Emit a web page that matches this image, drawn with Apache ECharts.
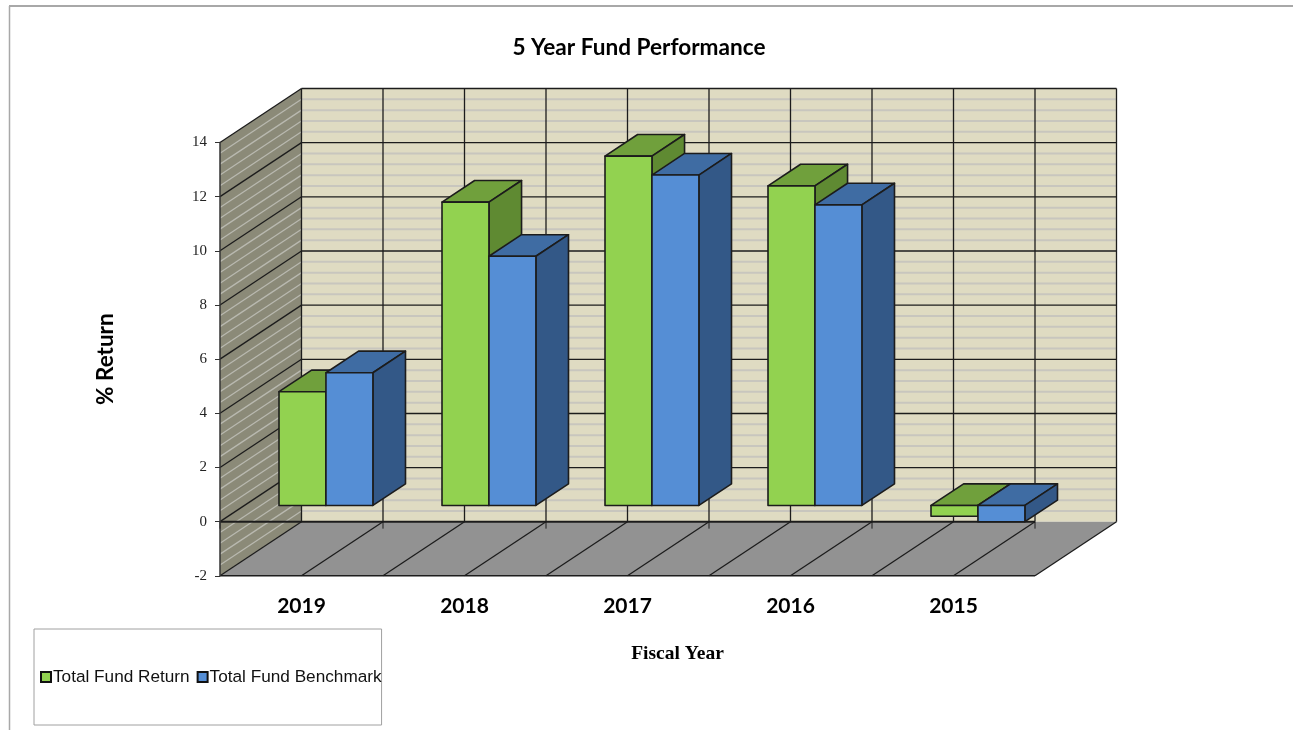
<!DOCTYPE html>
<html>

<head>
    <meta charset="utf-8">
    <script type="text/javascript" src="https://cdn.jsdelivr.net/npm/echarts@6/dist/echarts.min.js"></script>
    <title>5 Year Fund Performance</title>
    <style>
        html, body { margin: 0; padding: 0; background: #fff; }
    </style>
</head>

<body>
    <div id="container" style="width:1293px;height:730px;"></div>
    <script type="text/javascript">
    var categories = ['2019', '2018', '2017', '2016', '2015'];
    var fundReturn = [4.2, 11.2, 12.9, 11.8, -0.4];
    var fundBenchmark = [4.9, 9.2, 12.2, 11.1, -0.6];
    var majorTicks = [-2, 0, 2, 4, 6, 8, 10, 12, 14];

    // the depth of the fake 3D box, in pixels
    var depthX = 81.5;
    var depthY = -54;
    var barStart = 0.3;
    var barEnd = 0.7;
    var barWidth = 0.288;
    var minorPerMajor = 5;

    var lineColor = '#1c1c1c';
    var greenFaces = { front: '#92d250', top: '#70a03c', side: '#5f8a32' };
    var blueFaces = { front: '#558ed5', top: '#3f6ca3', side: '#335887' };

    // f = position along x in categories from the left edge, v = value, d = depth 0..1
    function point(api, f, v, d) {
        var base = api.coord([0, v]);
        var band = api.size([1, 0])[0];
        return [base[0] + (f - 0.5) * band + d * depthX, base[1] + d * depthY];
    }

    function line(a, b, color, width) {
        return {
            type: 'line',
            shape: { x1: a[0], y1: a[1], x2: b[0], y2: b[1] },
            style: { stroke: color, lineWidth: width }
        };
    }

    function face(points, fill, stroke, width) {
        return {
            type: 'polygon',
            shape: { points: points },
            style: { fill: fill, stroke: stroke || fill, lineWidth: width || 0, lineJoin: 'round' }
        };
    }

    // back wall, left wall, floor and their grid lines
    function renderBox(params, api) {
        var n = categories.length;
        var low = majorTicks[0];
        var high = majorTicks[majorTicks.length - 1];
        var kids = [];

        kids.push(face([point(api, 0, low, 1), point(api, n, low, 1), point(api, n, high, 1), point(api, 0, high, 1)], '#dfdbc2'));
        kids.push(face([point(api, 0, low, 0), point(api, 0, low, 1), point(api, 0, high, 1), point(api, 0, high, 0)], '#8b8a78'));

        // light stripes between the major lines
        for (var i = 0; i < majorTicks.length - 1; i++) {
            for (var k = 1; k < minorPerMajor; k++) {
                var v = majorTicks[i] + (majorTicks[i + 1] - majorTicks[i]) * k / minorPerMajor;
                kids.push(line(point(api, 0, v, 0), point(api, 0, v, 1), '#b9b9b0', 1.3));
                kids.push(line(point(api, 0, v, 1), point(api, n, v, 1), '#c8c6be', 2));
            }
        }

        // vertical lines on the back wall, every half category
        for (var h = 0; h <= n * 2; h++) {
            kids.push(line(point(api, h / 2, low, 1), point(api, h / 2, high, 1), lineColor, 1.3));
        }

        // major lines
        majorTicks.forEach(function (t) {
            if (t === low) return;
            kids.push(line(point(api, 0, t, 0), point(api, 0, t, 1), lineColor, 1.3));
            kids.push(line(point(api, 0, t, 1), point(api, n, t, 1), lineColor, 1.3));
        });

        // floor
        kids.push(face([point(api, 0, low, 0), point(api, n, low, 0), point(api, n, low, 1), point(api, 0, low, 1)], '#929292'));
        for (var s = 0; s <= n * 2; s++) {
            kids.push(line(point(api, s / 2, low, 0), point(api, s / 2, low, 1), lineColor, 1.3));
        }
        kids.push(line(point(api, 0, low, 0), point(api, n, low, 0), lineColor, 1.5));

        // zero line with its ticks
        kids.push(line(point(api, 0, 0, 0), point(api, n, 0, 0), lineColor, 2));
        for (var c = 0; c <= n; c++) {
            var z = point(api, c, 0, 0);
            kids.push(line(z, [z[0], z[1] + 7], lineColor, 1));
        }
        return { type: 'group', children: kids };
    }

    // one 3D bar: offset is -1 for the left bar of a pair, 0 for the right one
    function barRenderer(offset, colors) {
        return function (params, api) {
            var f0 = api.value(0) + 0.5 + offset * barWidth;
            var f1 = f0 + barWidth;
            var v = api.value(1);
            var top = Math.max(v, 0);
            var bottom = Math.min(v, 0);
            return {
                type: 'group',
                children: [
                    face([point(api, f0, top, barStart), point(api, f1, top, barStart), point(api, f1, top, barEnd), point(api, f0, top, barEnd)], colors.top, lineColor, 1.6),
                    face([point(api, f1, bottom, barStart), point(api, f1, bottom, barEnd), point(api, f1, top, barEnd), point(api, f1, top, barStart)], colors.side, lineColor, 1.6),
                    face([point(api, f0, bottom, barStart), point(api, f1, bottom, barStart), point(api, f1, top, barStart), point(api, f0, top, barStart)], colors.front, lineColor, 1.6)
                ]
            };
        };
    }

    function toPairs(values) {
        return values.map(function (v, i) { return [i, v]; });
    }

    var myChart = echarts.init(document.getElementById('container'), null, { renderer: 'canvas' });

    var option = {
        animation: false,
        title: {
            text: '5 Year Fund Performance',
            left: 634,
            top: 31,
            textAlign: 'center',
            textStyle: { fontFamily: 'Lato', fontSize: 22.6, fontWeight: 'bold', color: '#000' }
        },
        legend: {
            data: ['Total Fund Return', 'Total Fund Benchmark'],
            left: 34,
            top: 629,
            padding: [39, 0, 39, 6],
            itemWidth: 10,
            itemHeight: 10,
            itemGap: 7,
            borderColor: '#a0a0a0',
            borderWidth: 1,
            icon: 'rect',
            selectedMode: false,
            itemStyle: { borderColor: '#111', borderWidth: 2 },
            textStyle: { fontFamily: 'Liberation Sans', fontSize: 17.2, lineHeight: 18, color: '#111', padding: [0, 0, 0, -3] }
        },
        grid: { left: 220, top: 142.5, width: 815, height: 433.3 },
        xAxis: {
            type: 'category',
            data: categories,
            axisLine: { show: false },
            axisTick: { show: false },
            axisLabel: { margin: 20, fontFamily: 'Lato', fontSize: 21, fontWeight: 'bold', color: '#000' },
            name: 'Fiscal Year',
            nameLocation: 'middle',
            nameGap: 68,
            nameTextStyle: { fontFamily: 'Liberation Serif', fontSize: 19.5, fontWeight: 'bold', color: '#000', padding: [0, 0, 0, 100] }
        },
        yAxis: {
            type: 'value',
            min: -2,
            max: 14,
            interval: 2,
            z: 4,
            splitLine: { show: false },
            axisLine: { show: true, onZero: false, lineStyle: { color: '#333', width: 1.5 } },
            axisTick: { show: true, length: 5, lineStyle: { color: '#333' } },
            axisLabel: { margin: 13, fontFamily: 'Liberation Serif', fontSize: 15, color: '#222' },
            name: '% Return',
            nameLocation: 'middle',
            nameGap: 103,
            nameTextStyle: { fontFamily: 'Lato', fontSize: 22.5, fontWeight: 'bold', color: '#000' }
        },
        graphic: [
            // grey page frame, top and left
            { type: 'line', shape: { x1: 9, y1: 6, x2: 1293, y2: 6 }, style: { stroke: '#a8a8a8', lineWidth: 2 }, silent: true },
            { type: 'line', shape: { x1: 9.5, y1: 6, x2: 9.5, y2: 730 }, style: { stroke: '#a8a8a8', lineWidth: 1.5 }, silent: true }
        ],
        series: [{
            name: 'box',
            type: 'custom',
            silent: true,
            z: 1,
            renderItem: renderBox,
            data: [[0, 0]]
        }, {
            name: 'Total Fund Return',
            type: 'custom',
            z: 2,
            itemStyle: { color: greenFaces.front },
            renderItem: barRenderer(-1, greenFaces),
            data: toPairs(fundReturn)
        }, {
            name: 'Total Fund Benchmark',
            type: 'custom',
            z: 3,
            itemStyle: { color: blueFaces.front },
            renderItem: barRenderer(0, blueFaces),
            data: toPairs(fundBenchmark)
        }]
    };

    myChart.setOption(option);
    </script>
</body>

</html>
